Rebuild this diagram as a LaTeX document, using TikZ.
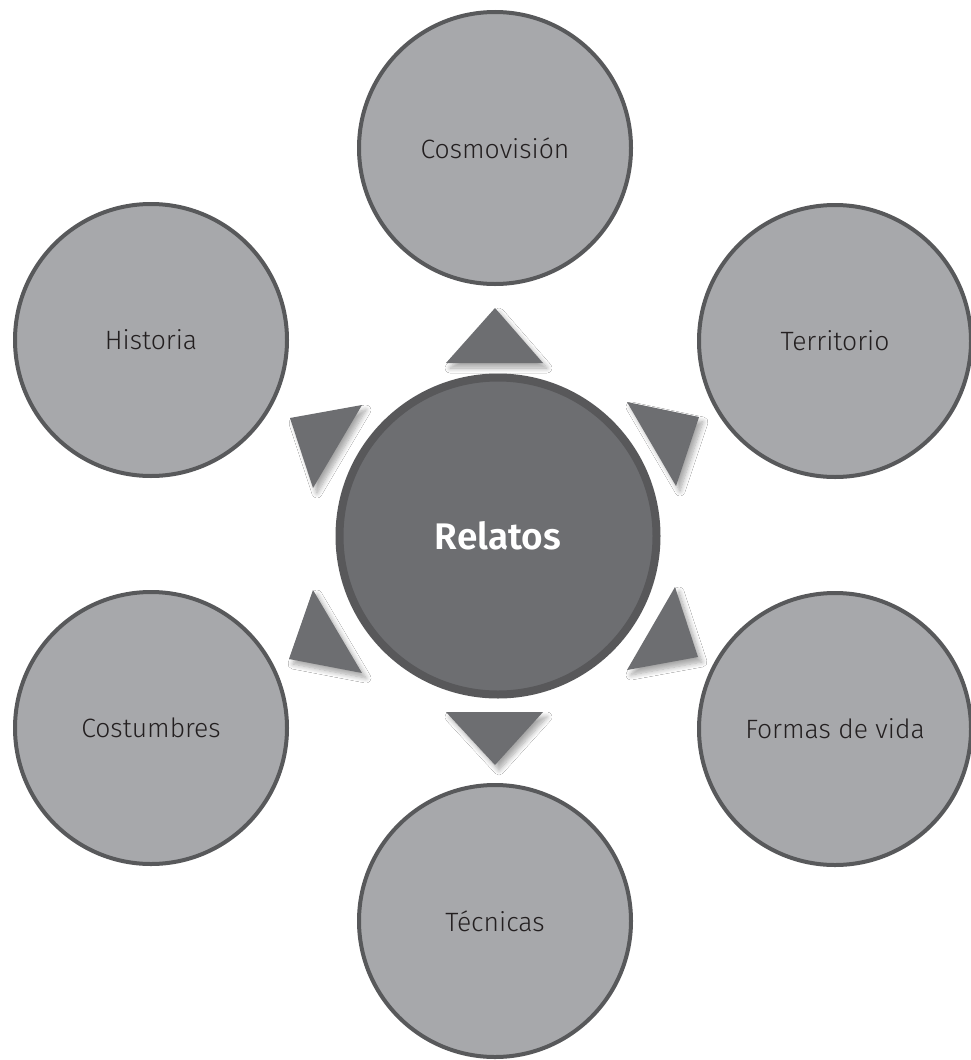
\documentclass[tikz,border=0pt]{standalone}
\usepackage{fontspec}
\setmainfont{Fira Sans}[UprightFont={* Light}, BoldFont={* SemiBold}]
\usetikzlibrary{shadows.blur}
\definecolor{outerfill}{HTML}{A7A8AB}
\definecolor{outerline}{HTML}{58595B}
\definecolor{hubfill}{HTML}{6D6E71}
\definecolor{hubline}{HTML}{58585A}
\definecolor{txtdark}{HTML}{231F20}
\tikzset{
  outer/.style={circle, draw=outerline, fill=outerfill, line width=4pt,
    minimum size=272pt, inner sep=0pt, text=txtdark,
    font=\fontsize{26.5}{30}\selectfont},
  hub/.style={circle, draw=hubline, fill=hubfill, line width=8pt,
    minimum size=317pt, inner sep=0pt, text=white,
    font=\fontsize{37}{44}\selectfont\bfseries},
  tri/.style={fill=hubfill, blur shadow={shadow xshift=4pt, shadow yshift=-5pt,
    shadow blur steps=8, shadow blur radius=5pt, shadow opacity=35}}
}
\begin{document}
\begin{tikzpicture}[x=1pt,y=-1pt]
\useasboundingbox (0,0) rectangle (971,1060);
\fill[white] (0,0) rectangle (971,1060);
% triangles
\path[tri] (495,308) -- (446,363) -- (543,363) -- cycle;
\path[tri] (495,765) -- (446,712) -- (543,712) -- cycle;
\path[tri] (290,418) -- (362,405) -- (313,488) -- cycle;
\path[tri] (699,417) -- (627,402) -- (676,486) -- cycle;
\path[tri] (698,657) -- (675,587) -- (627,670) -- cycle;
\path[tri] (289,659) -- (313,590) -- (362,673) -- cycle;
% circles
\node[hub] (rel) at (498,536) {Relatos};
\node[outer] (cos) at (495,148) {Cosmovisión};
\node[outer] (his) at (151,340) {Historia};
\node[outer] (ter) at (835,341) {Territorio};
\node[outer] (cst) at (151,728) {Costumbres};
\node[outer] (for) at (835,729) {Formas de vida};
\node[outer] (tec) at (495,921) {Técnicas};
\end{tikzpicture}
\end{document}
